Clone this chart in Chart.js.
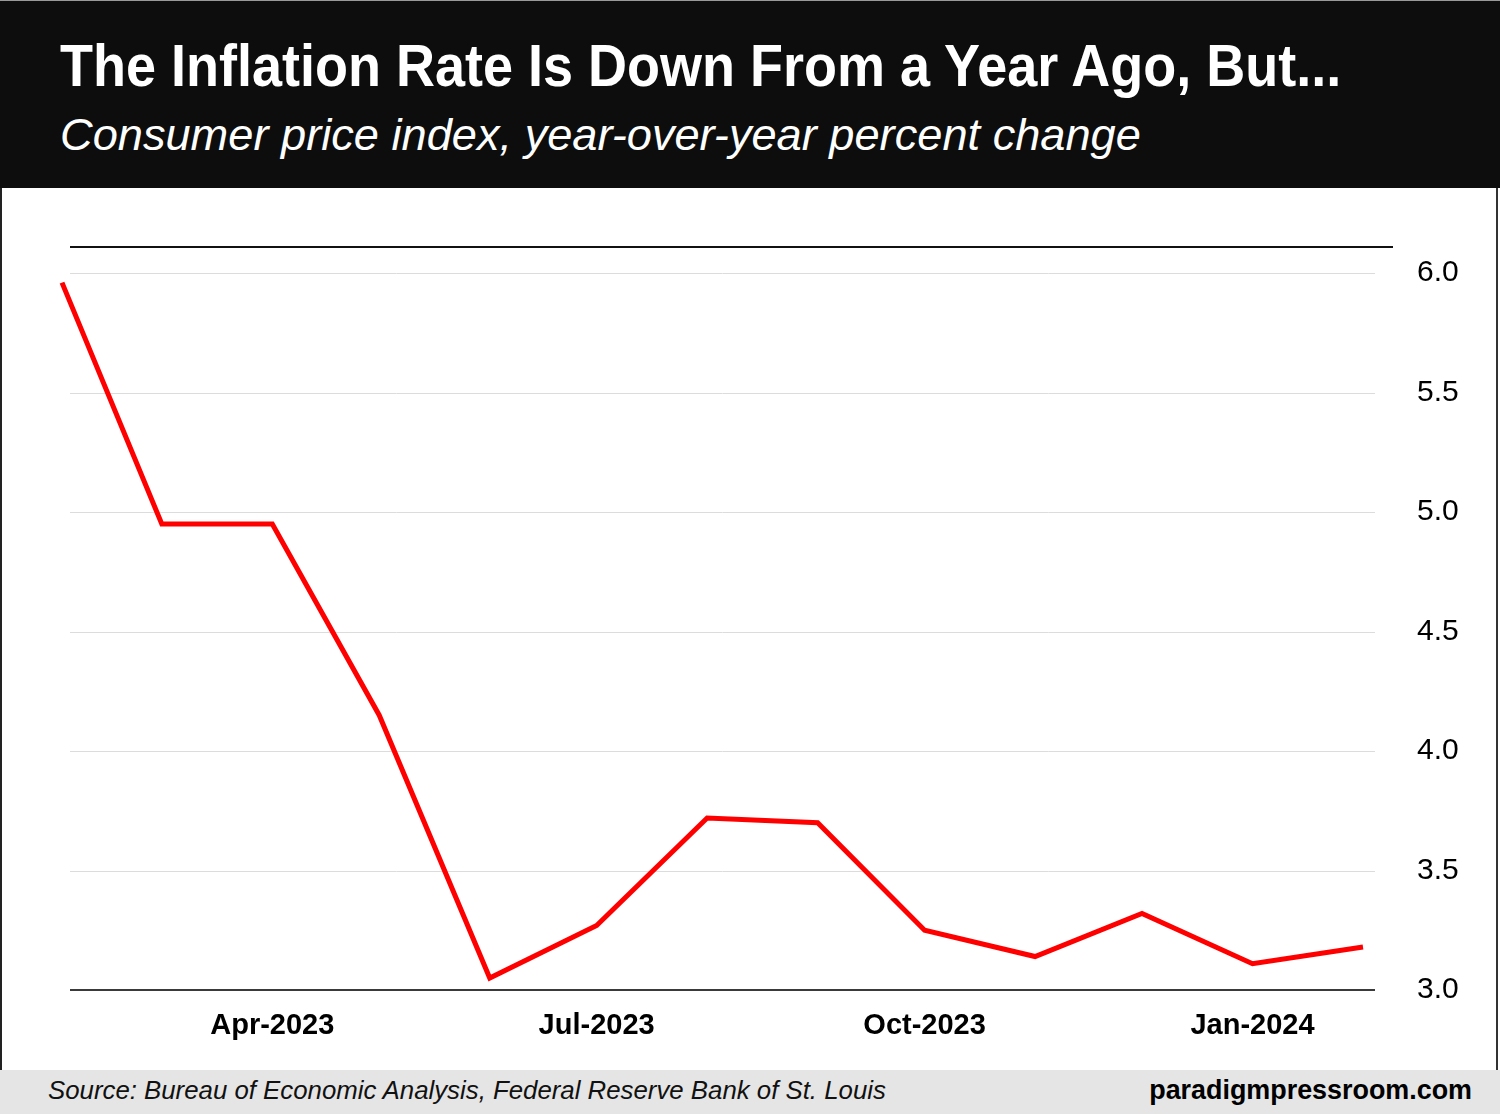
<!DOCTYPE html>
<html>
<head>
<meta charset="utf-8">
<script src="https://cdn.jsdelivr.net/npm/chart.js@4"></script>
<style>
  html, body { margin:0; padding:0; background:#fff; }
  body { width:1500px; height:1114px; position:relative; overflow:hidden; font-family:"Liberation Sans", Arial, sans-serif; }
  #header { position:absolute; left:0; top:0; width:1500px; height:188px; background:#0d0d0d; border-top:1px solid #999; box-sizing:border-box; }
  #title { position:absolute; left:60px; top:31px; color:#fff; font-weight:bold; font-size:54px; white-space:nowrap; transform-origin:0 0; transform:scaleY(1.08); }
  #subtitle { position:absolute; left:60px; top:108px; color:#fff; font-style:italic; font-size:45.2px; white-space:nowrap; }
  #chartwrap { position:absolute; left:0; top:188px; width:1500px; height:882px; }
  #lborder { position:absolute; left:0; top:188px; width:2px; height:882px; background:#222; }
  #rborder { position:absolute; left:1496px; top:188px; width:2px; height:882px; background:#333; }
  #footer { position:absolute; left:0; top:1070px; width:1500px; height:44px; background:#e5e5e5; }
  #source { position:absolute; left:48px; top:6px; font-style:italic; font-size:25.8px; color:#111; white-space:nowrap; }
  #brand { position:absolute; right:28px; top:5px; font-weight:bold; font-size:26.9px; color:#000; white-space:nowrap; }
</style>
</head>
<body>
<div id="header">
  <div id="title">The Inflation Rate Is Down From a Year Ago, But...</div>
  <div id="subtitle">Consumer price index, year-over-year percent change</div>
</div>
<div id="chartwrap"><canvas id="c" width="1500" height="882"></canvas></div>
<div id="lborder"></div>
<div id="rborder"></div>
<div id="footer">
  <div id="source">Source: Bureau of Economic Analysis, Federal Reserve Bank of St. Louis</div>
  <div id="brand">paradigmpressroom.com</div>
</div>
<script>
const months = ["2023-02-01","2023-03-01","2023-04-01","2023-05-01","2023-06-01","2023-07-01","2023-08-01","2023-09-01","2023-10-01","2023-11-01","2023-12-01","2024-01-01","2024-02-01"];
const cpiYoY = [5.96, 4.95, 4.95, 4.15, 3.05, 3.27, 3.72, 3.70, 3.25, 3.14, 3.32, 3.11, 3.18];
const xTickDates = ["2023-04-01","2023-07-01","2023-10-01","2024-01-01"];
const xTickLabels = ["Apr-2023","Jul-2023","Oct-2023","Jan-2024"];
const yTickValues = [3.0, 3.5, 4.0, 4.5, 5.0, 5.5, 6.0];
const yMin = 3.0, yMax = 6.109;

const ts = s => Date.parse(s + "T00:00:00Z");
const points = months.map((m, i) => ({ x: ts(m), y: cpiYoY[i] }));
const xTickTs = xTickDates.map(ts);

const gridPlugin = {
  id: 'customGrid',
  beforeDatasetsDraw(chart) {
    const ctx = chart.ctx;
    const y = chart.scales.y;
    const area = chart.chartArea;
    ctx.save();
    yTickValues.forEach(v => {
      if (v === yMin) return;
      const py = Math.round(y.getPixelForValue(v));
      ctx.strokeStyle = '#dcdcdc';
      ctx.lineWidth = 1;
      ctx.beginPath();
      ctx.moveTo(70, py + 0.5);
      ctx.lineTo(1375, py + 0.5);
      ctx.stroke();
    });
    ctx.strokeStyle = '#111';
    ctx.lineWidth = 2;
    ctx.beginPath();
    ctx.moveTo(70, area.top);
    ctx.lineTo(1393, area.top);
    ctx.stroke();
    const by = Math.round(y.getPixelForValue(yMin));
    ctx.strokeStyle = '#3a3a3a';
    ctx.lineWidth = 2;
    ctx.beginPath();
    ctx.moveTo(70, by);
    ctx.lineTo(1375, by);
    ctx.stroke();
    ctx.restore();
  }
};

new Chart(document.getElementById('c'), {
  type: 'line',
  data: {
    datasets: [{
      data: points,
      borderColor: '#ff0000',
      borderWidth: 5,
      pointRadius: 0,
      tension: 0,
      fill: false,
      clip: false,
      borderJoinStyle: 'miter'
    }]
  },
  options: {
    responsive: false,
    animation: false,
    events: [],
    layout: { padding: { left: 62, top: 59, right: 0, bottom: 0 } },
    plugins: { legend: { display: false }, tooltip: { enabled: false } },
    scales: {
      x: {
        type: 'linear',
        min: ts(months[0]),
        max: ts(months[months.length - 1]),
        grid: { display: false, drawTicks: false },
        border: { display: false },
        afterBuildTicks(scale) { scale.ticks = xTickTs.map(v => ({ value: v })); },
        ticks: {
          autoSkip: false,
          maxRotation: 0,
          padding: 19,
          color: '#000',
          font: { family: '"Liberation Sans", Arial, sans-serif', size: 29, weight: 'bold' },
          callback: function(val) { const i = xTickTs.indexOf(val); return i >= 0 ? xTickLabels[i] : ''; }
        },
        afterFit(scale) { scale.height = 80; scale.paddingLeft = 0; scale.paddingRight = 0; }
      },
      y: {
        position: 'right',
        min: yMin,
        max: yMax,
        grid: { display: false, drawTicks: false },
        border: { display: false },
        afterBuildTicks(scale) { scale.ticks = yTickValues.map(v => ({ value: v })); },
        ticks: {
          padding: 54,
          color: '#000',
          font: { family: '"Liberation Sans", Arial, sans-serif', size: 30 },
          callback: v => Number(v).toFixed(1)
        },
        afterFit(scale) { scale.width = 137; scale.paddingTop = 0; scale.paddingBottom = 0; }
      }
    }
  },
  plugins: [gridPlugin]
});
</script>
</body>
</html>
